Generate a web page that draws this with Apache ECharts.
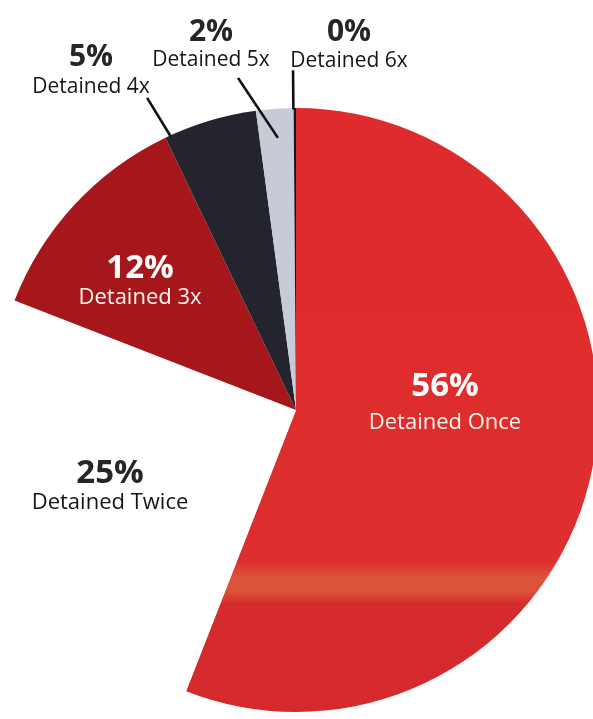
<!DOCTYPE html>
<html>
<head>
<meta charset="utf-8">
<script src="https://cdn.jsdelivr.net/npm/echarts@6/dist/echarts.min.js"></script>
<style>
  html, body { margin: 0; padding: 0; background: #ffffff; }
  #chart { width: 593px; height: 719px; }
</style>
</head>
<body>
<div id="chart"></div>
<script>
// Share of people by number of times detained
const categories = ['Detained Once', 'Detained Twice', 'Detained 3x', 'Detained 4x', 'Detained 5x', 'Detained 6x'];
const shares = [56, 25, 12, 5, 2, 0];

// Slice colours, in category order
const sliceColors = ['#dc2a2d', '#ffffff', '#a6171c', '#23242e', '#c7cbd5', '#15161c'];
// Label text colours, in category order
const labelColors = ['#ffffff', '#262626', '#ffffff', '#262626', '#262626', '#262626'];

const CENTER = [296, 410];
const RADIUS = 302;

// point at a clockwise angle from 12 o'clock, at a fraction of the radius
function polar(deg, frac) {
  const a = deg * Math.PI / 180;
  return [CENTER[0] + Math.sin(a) * RADIUS * frac, CENTER[1] - Math.cos(a) * RADIUS * frac];
}

// label placement: centre of text block, line gap, and optional leader line
// (leader lines given as [angle, radius fraction] pairs)
const labelPlace = [
  { x: 445, y: 405, gap: 36 },
  { x: 110, y: 488, gap: 29 },
  { x: 140, y: 283, gap: 29 },
  { x: 91,  y: 72,  gap: 30, line: [[335.4, 0.995], [334.5, 1.145]] },
  { x: 211, y: 46,  gap: 28, line: [[356.2, 0.903], [350.1, 1.116]] },
  { x: 349, y: 47,  gap: 29, line: [[-0.5, 0.995], [-0.5, 1.125]] }
];

const chart = echarts.init(document.getElementById('chart'), null, { renderer: 'canvas' });

// the large slice carries a warm band from the print
const onceFill = new echarts.graphic.LinearGradient(0, 0, 0, 719, [
  { offset: 0, color: '#de2a2d' },
  { offset: 0.78, color: '#de2e2d' },
  { offset: 0.805, color: '#dc553a' },
  { offset: 0.822, color: '#db5238' },
  { offset: 0.84, color: '#d52b2d' },
  { offset: 1, color: '#d6292c' }
], true);

function richFor(i) {
  const top = !!labelPlace[i].line;
  const gap = labelPlace[i].gap;
  return {
    p: {
      fontFamily: 'Open Sans',
      fontWeight: 'bold',
      fontSize: top ? 30 : 33,
      color: labelColors[i],
      lineHeight: gap,
      align: 'center'
    },
    n: {
      fontFamily: 'Open Sans',
      fontSize: top ? 21 : 22,
      color: labelColors[i] === '#ffffff' ? '#fff6ee' : '#151515',
      lineHeight: gap,
      align: 'center'
    }
  };
}

const sliceData = categories.map((name, i) => ({
  name: name,
  value: shares[i],
  itemStyle: { color: i === 0 ? onceFill : sliceColors[i] },
  label: { rich: richFor(i) }
}));

// leader lines from the small slices up to their labels
const leaderLines = labelPlace
  .filter(p => p.line)
  .map(p => ({
    type: 'polyline',
    z: 100,
    silent: true,
    shape: { points: p.line.map(([deg, frac]) => polar(deg, frac)) },
    style: { stroke: '#111111', lineWidth: 2.6, fill: null }
  }));

chart.setOption({
  backgroundColor: '#ffffff',
  animation: false,
  graphic: { elements: leaderLines },
  series: [{
    type: 'pie',
    center: CENTER,
    radius: RADIUS,
    startAngle: 90,
    clockwise: true,
    minAngle: 0.45,
    avoidLabelOverlap: false,
    silent: true,
    itemStyle: { borderWidth: 0 },
    label: {
      show: true,
      position: 'inside',
      formatter: p => '{p|' + p.value + '%}\n{n|' + p.name + '}'
    },
    labelLine: { show: false },
    labelLayout: params => {
      const place = labelPlace[params.dataIndex];
      return { x: place.x, y: place.y, align: 'center', verticalAlign: 'middle' };
    },
    data: sliceData
  }]
});
</script>
</body>
</html>
